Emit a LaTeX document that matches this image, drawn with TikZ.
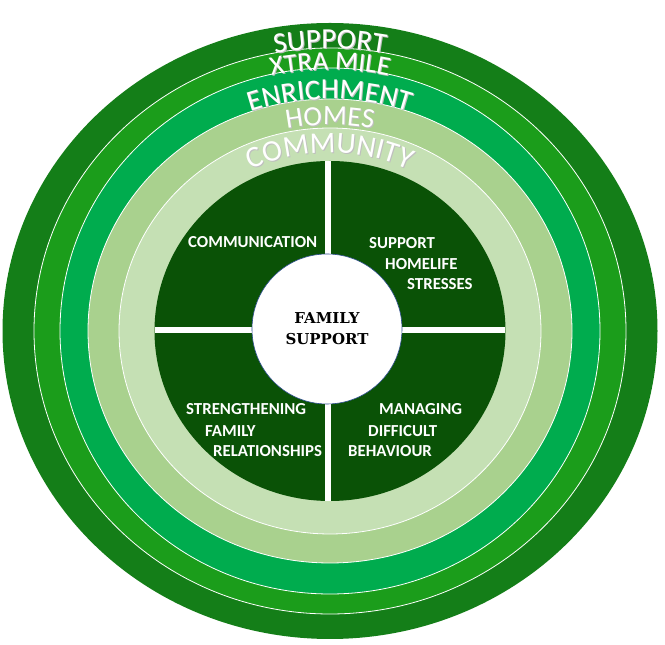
\documentclass[tikz,border=0pt]{standalone}
\usepackage{fontspec}
\setmainfont{Carlito}
\newfontfamily\hubfont{DejaVu Serif}
\usepackage{tikz}
\usetikzlibrary{decorations.text,positioning}

\definecolor{supportgreen}{HTML}{147E18}
\definecolor{xtragreen}{HTML}{1B9D1B}
\definecolor{enrichgreen}{HTML}{00AC4E}
\definecolor{homesgreen}{HTML}{A9D18E}
\definecolor{commgreen}{HTML}{C5E0B4}
\definecolor{coregreen}{HTML}{0A5206}
\definecolor{hubline}{HTML}{2F4F8F}

\begin{document}
\begin{tikzpicture}[x=1pt,y=1pt,
	ring/.style={draw=white, line width=0.8pt},
	bar/.style={draw=white, line width=6pt},
	quad/.style={text=white, inner sep=0pt, anchor=west, font=\fontsize{16.8}{18}\selectfont\bfseries},
	hub/.style={circle, draw=hubline, fill=white, line width=0.6pt, minimum size=150pt, align=center, font=\hubfont\bfseries\fontsize{15}{21}\selectfont}]
	
	\useasboundingbox (0,0) rectangle (665,645);
	
	\fill[supportgreen] (330,314) ellipse [x radius=327.5, y radius=308];
	\foreach \col/\rx/\ry in {xtragreen/296/283, enrichgreen/270/263, homesgreen/242/232, commgreen/211/203}
		\filldraw[ring, fill=\col] (330,314) ellipse [x radius=\rx, y radius=\ry];
	\fill[coregreen] (330,314) ellipse [x radius=175.5, y radius=170];
	
	\coordinate (top) at (328,484);
	\coordinate (bottom) at (328,144);
	\coordinate (left) at (154.5,315);
	\coordinate (right) at (505,315);
	\draw[bar] (top) -- (bottom);
	\draw[bar] (left) -- (right);
	
	\node[hub] (fam) at (327,316) {FAMILY\\SUPPORT};
	
	\foreach \ry/\rx/\size/\word in {282/296/29/SUPPORT, 261/274/27/XTRA MILE, 232/244/29/ENRICHMENT, 206/216/28/HOMES, 178/187/30/COMMUNITY}{
		\path[decorate, decoration={text along path, text align=center, text color=black!25,
			text/.expanded={|\noexpand\fontsize{\size}{\size}\noexpand\selectfont|\word}}]
			([shift={(171:\rx pt and \ry pt)}]331,313) arc[start angle=171, end angle=9, x radius=\rx, y radius=\ry];
		\path[decorate, decoration={text along path, text align=center, text color=white,
			text/.expanded={|\noexpand\fontsize{\size}{\size}\noexpand\selectfont|\word}}]
			([shift={(171:\rx pt and \ry pt)}]330,314) arc[start angle=171, end angle=9, x radius=\rx, y radius=\ry];
	}
	
	\node[quad] (comm) at (188,403) {COMMUNICATION};
	\node[quad] (supp) at (369,402) {SUPPORT};
	\node[quad] (home) at (385,381) {HOMELIFE};
	\node[quad] (stre) at (407,361) {STRESSES};
	\node[quad] (streng) at (186,236) {STRENGTHENING};
	\node[quad] (family) at (205,214) {FAMILY};
	\node[quad] (relat) at (213,194) {RELATIONSHIPS};
	\node[quad] (manag) at (379,236) {MANAGING};
	\node[quad] (diff) at (368,214) {DIFFICULT};
	\node[quad] (behav) at (348,194) {BEHAVIOUR};
	
\end{tikzpicture}
\end{document}
